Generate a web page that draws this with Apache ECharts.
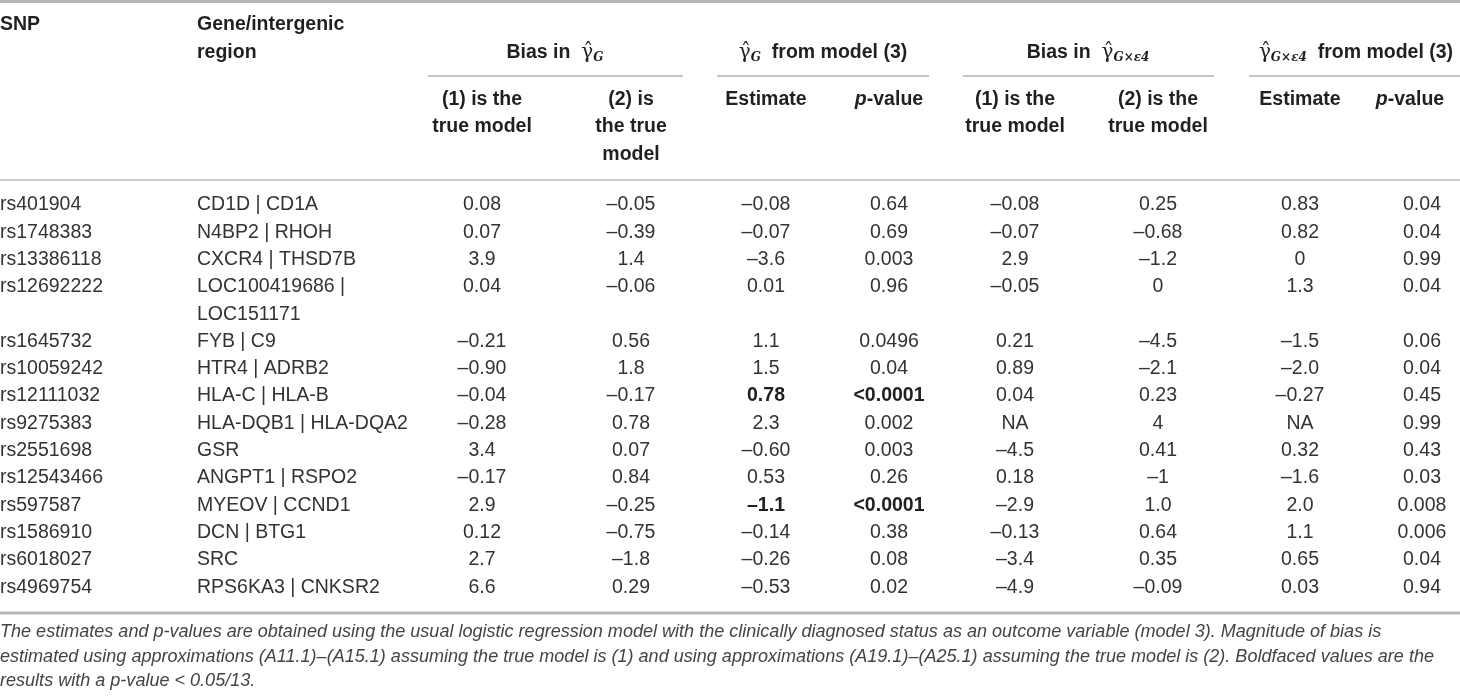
<!DOCTYPE html>
<html lang="en">
<head>
  <meta charset="UTF-8">
  <title>SNP bias table</title>
  <script src="https://cdn.jsdelivr.net/npm/echarts@6/dist/echarts.min.js"></script>
  <style>
    html, body { margin: 0; padding: 0; background: #fff; }
    #main { width: 1460px; height: 696px; }
  </style>
</head>
<body>
<div id="main"></div>
<script>
  // table data
  var snps = ['rs401904', 'rs1748383', 'rs13386118', 'rs12692222', 'rs1645732', 'rs10059242', 'rs12111032',
    'rs9275383', 'rs2551698', 'rs12543466', 'rs597587', 'rs1586910', 'rs6018027', 'rs4969754'];
  var genes = ['CD1D | CD1A', 'N4BP2 | RHOH', 'CXCR4 | THSD7B', 'LOC100419686 |\nLOC151171', 'FYB | C9',
    'HTR4 | ADRB2', 'HLA-C | HLA-B', 'HLA-DQB1 | HLA-DQA2', 'GSR', 'ANGPT1 | RSPO2', 'MYEOV | CCND1',
    'DCN | BTG1', 'SRC', 'RPS6KA3 | CNKSR2'];
  var biasG1 = ['0.08', '0.07', '3.9', '0.04', '–0.21', '–0.90', '–0.04', '–0.28', '3.4', '–0.17', '2.9', '0.12', '2.7', '6.6'];
  var biasG2 = ['–0.05', '–0.39', '1.4', '–0.06', '0.56', '1.8', '–0.17', '0.78', '0.07', '0.84', '–0.25', '–0.75', '–1.8', '0.29'];
  var estG = ['–0.08', '–0.07', '–3.6', '0.01', '1.1', '1.5', '0.78', '2.3', '–0.60', '0.53', '–1.1', '–0.14', '–0.26', '–0.53'];
  var pG = ['0.64', '0.69', '0.003', '0.96', '0.0496', '0.04', '<0.0001', '0.002', '0.003', '0.26', '<0.0001', '0.38', '0.08', '0.02'];
  var biasGE1 = ['–0.08', '–0.07', '2.9', '–0.05', '0.21', '0.89', '0.04', 'NA', '–4.5', '0.18', '–2.9', '–0.13', '–3.4', '–4.9'];
  var biasGE2 = ['0.25', '–0.68', '–1.2', '0', '–4.5', '–2.1', '0.23', '4', '0.41', '–1', '1.0', '0.64', '0.35', '–0.09'];
  var estGE = ['0.83', '0.82', '0', '1.3', '–1.5', '–2.0', '–0.27', 'NA', '0.32', '–1.6', '2.0', '1.1', '0.65', '0.03'];
  var pGE = ['0.04', '0.04', '0.99', '0.04', '0.06', '0.04', '0.45', '0.99', '0.43', '0.03', '0.008', '0.006', '0.04', '0.94'];
  // rows where model (3) estimate and p-value are boldfaced
  var boldRows = [6, 10];

  var footnote = [
    'The estimates and p-values are obtained using the usual logistic regression model with the clinically diagnosed status as an outcome variable (model 3). Magnitude of bias is',
    'estimated using approximations (A11.1)–(A15.1) assuming the true model is (1) and using approximations (A19.1)–(A25.1) assuming the true model is (2). Boldfaced values are the',
    'results with a p-value < 0.05/13.'
  ];

  // layout
  var columns = [snps, genes, biasG1, biasG2, estG, pG, biasGE1, biasGE2, estGE, pGE];
  var colX = [0, 197, 482, 631, 766, 889, 1015, 1158, 1300, 1422];
  var ink = '#231f20';
  var bodyInk = '#333';
  var font = '"Liberation Sans", Arial, sans-serif';
  var fs = 19.5;

  // line index of each row (a wrapped gene name takes two lines)
  var lineOf = [];
  var n = 0;
  for (var i = 0; i < snps.length; i++) {
    lineOf.push(n);
    n += genes[i].split('\n').length;
  }
  var totalLines = n;

  var cells = [];
  for (var r = 0; r < snps.length; r++) {
    for (var c = 0; c < columns.length; c++) {
      cells.push({
        value: [colX[c], lineOf[r]],
        text: columns[c][r],
        align: c < 2 ? 'left' : 'center',
        bold: (c === 4 || c === 5) && boldRows.indexOf(r) >= 0
      });
    }
  }

  var rowH = 27.3;
  var firstY = 205;

  // header pieces
  var hat = '{g|γ̂}';
  var rich = {
    g: { fontFamily: '"DejaVu Serif", serif', fontSize: 20, fill: ink },
    s: { fontFamily: '"DejaVu Serif", serif', fontStyle: 'italic', fontWeight: 'bold', fontSize: 12, fill: ink, padding: [10, 0, 0, 0] },
    b: { fontFamily: font, fontWeight: 'bold', fontSize: fs, fill: ink },
    i: { fontFamily: font, fontWeight: 'bold', fontStyle: 'italic', fontSize: fs, fill: ink }
  };
  function htext(x, y, text, align) {
    return {
      type: 'text', x: x, y: y, silent: true,
      style: { text: text, fill: ink, fontFamily: font, fontWeight: 'bold', fontSize: fs,
        align: align || 'center', verticalAlign: 'middle', rich: rich }
    };
  }
  function hline(x1, x2, y, w, color) {
    return { type: 'line', silent: true, shape: { x1: x1, y1: y, x2: x2, y2: y },
      style: { stroke: color, lineWidth: w } };
  }

  var graphics = [
    hline(0, 1460, 1.5, 3, '#b5b5b5'),
    htext(0, 25, 'SNP', 'left'),
    htext(197, 25, 'Gene/intergenic', 'left'),
    htext(197, 53, 'region', 'left'),
    htext(555, 53, '{b|Bias in  }' + hat + '{s|G}'),
    htext(823, 53, hat + '{s|G}{b|  from model (3)}'),
    htext(1088, 53, '{b|Bias in  }' + hat + '{s|G×ε4}'),
    htext(1356, 53, hat + '{s|G×ε4}{b|  from model (3)}'),
    hline(428, 683, 76, 1.5, '#b0b0b0'),
    hline(717, 929, 76, 1.5, '#b0b0b0'),
    hline(963, 1214, 76, 1.5, '#b0b0b0'),
    hline(1249, 1460, 76, 1.5, '#b0b0b0'),
    htext(482, 100, '(1) is the'),
    htext(482, 127, 'true model'),
    htext(631, 100, '(2) is'),
    htext(631, 127, 'the true'),
    htext(631, 155, 'model'),
    htext(766, 100, 'Estimate'),
    htext(889, 100, '{i|p}{b|-value}'),
    htext(1015, 100, '(1) is the'),
    htext(1015, 127, 'true model'),
    htext(1158, 100, '(2) is the'),
    htext(1158, 127, 'true model'),
    htext(1300, 100, 'Estimate'),
    htext(1410, 100, '{i|p}{b|-value}'),
    hline(0, 1460, 180, 1.5, '#bdbdbd'),
    hline(0, 1460, 613, 3, '#b5b5b5')
  ];

  // footnote: condensed italic, stretched to the width the source uses
  var fnFont = 'italic 19px "Liberation Sans", Arial, sans-serif';
  var ctx = document.createElement('canvas').getContext('2d');
  ctx.font = fnFont;
  var sx = 1434 / ctx.measureText(footnote[1]).width;
  var fnY = [632, 657, 681];
  footnote.forEach(function (t, k) {
    graphics.push({
      type: 'text', x: 0, y: fnY[k], scaleX: sx, silent: true,
      style: { text: t, fill: '#444', font: fnFont, align: 'left', verticalAlign: 'middle' }
    });
  });

  var chartDom = document.getElementById('main');
  var myChart = echarts.init(chartDom);
  var option;

  option = {
    animation: false,
    grid: {
      left: 0, right: 0,
      top: firstY - rowH / 2,
      height: rowH * totalLines
    },
    xAxis: { type: 'value', min: 0, max: 1460, show: false },
    yAxis: { type: 'value', min: -0.5, max: totalLines - 0.5, inverse: true, show: false },
    graphic: graphics,
    series: [
      {
        type: 'custom',
        silent: true,
        data: cells,
        renderItem: function (params, api) {
          var cell = cells[params.dataIndex];
          var pt = api.coord([api.value(0), api.value(1)]);
          return {
            type: 'text',
            x: pt[0], y: pt[1],
            style: {
              text: cell.text,
              fill: cell.bold ? ink : bodyInk,
              fontFamily: font,
              fontSize: fs,
              fontWeight: cell.bold ? 'bold' : 'normal',
              align: cell.align,
              verticalAlign: 'top',
              lineHeight: rowH,
              y: -rowH / 2
            }
          };
        }
      }
    ]
  };

  option && myChart.setOption(option);
</script>
</body>
</html>
